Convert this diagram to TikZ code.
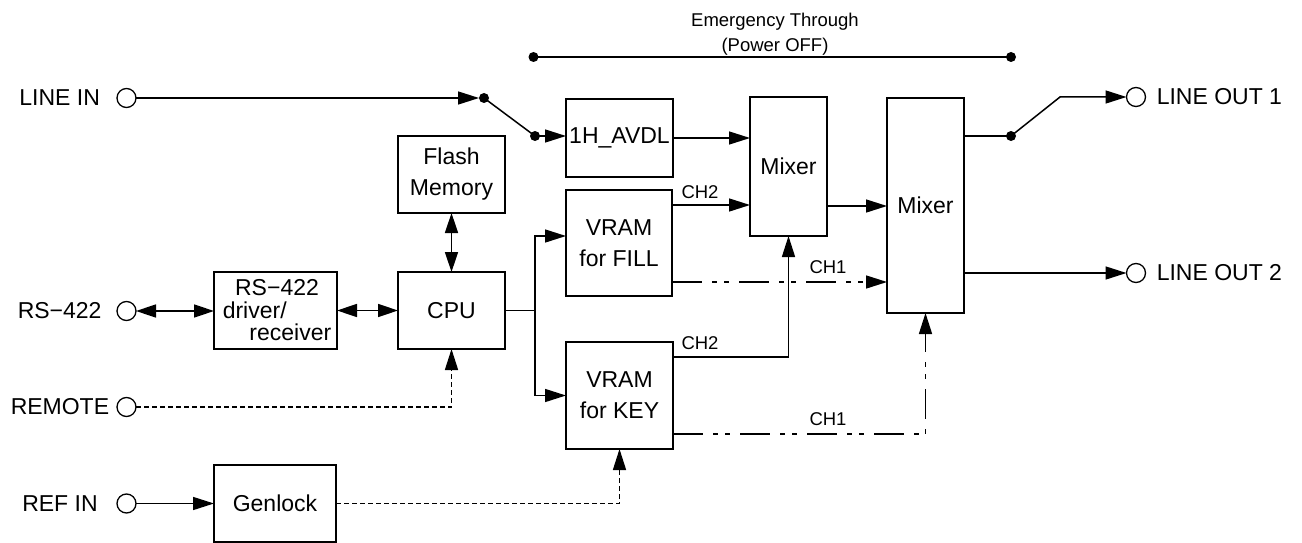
\documentclass[tikz,border=0pt]{standalone}
\usepackage{fontspec}
\setmainfont{Liberation Sans}
\usetikzlibrary{arrows.meta,calc}
\newcommand\dgbig{\fontsize{23}{31}\selectfont}
\newcommand\dgsmall{\fontsize{18.5}{25}\selectfont}
\begin{document}
\begin{tikzpicture}[x=1pt,y=-1pt,line width=1.5pt,
  box/.style={draw,inner sep=0pt,outer sep=0pt,align=center,font=\dgbig},
  term/.style={draw,circle,inner sep=0pt,outer sep=0pt,minimum size=19pt,line width=1.3pt},
  jdot/.style={fill,circle,inner sep=0pt,outer sep=0pt,minimum size=10pt},
  lbl/.style={inner sep=0pt,font=\dgbig},
  slbl/.style={inner sep=0pt,font=\dgsmall,align=center},
  arr/.style={-{Triangle[length=21pt,width=13pt]}},
  dbl/.style={{Triangle[length=20pt,width=13pt]}-{Triangle[length=20pt,width=13pt]}},
  dotl/.style={dash pattern=on 5pt off 3pt},
  dd/.style={dash pattern=on 30pt off 10pt on 5pt off 7pt on 5pt off 10pt}]
\useasboundingbox (0,0) rectangle (1302,543);

% boxes
\node[box,minimum width=107pt,minimum height=78pt] (avdl) at (619.5,138) {1H\_AVDL};
\node[box,minimum width=106pt,minimum height=106pt] (fill) at (619,243) {VRAM\\for FILL};
\node[box,minimum width=107pt,minimum height=107pt] (key) at (619.5,395.5) {VRAM\\for KEY};
\node[box,minimum width=77pt,minimum height=139pt] (mix1) at (788.5,166.5) {Mixer};
\node[box,minimum width=77pt,minimum height=215pt] (mix2) at (925.5,205.5) {Mixer};
\node[box,minimum width=107pt,minimum height=77pt] (flash) at (451.5,174.5) {Flash\\Memory};
\node[box,minimum width=107pt,minimum height=77pt] (cpu) at (451.5,310.5) {CPU};
\node[box,minimum width=123pt,minimum height=77pt] (drv) at (275.5,310.5) {};
\node[box,minimum width=122pt,minimum height=77pt] (gen) at (275,503.5) {Genlock};
\node[lbl,anchor=base] (drv1) at (277,295) {RS−422};
\node[lbl,anchor=base west] (drv2) at (222,318) {driver/};
\node[lbl,anchor=base east] (drv3) at (332,340) {receiver};

% terminals
\node[term] (tin) at (126.5,98) {};
\node[term] (trs) at (126.5,311) {};
\node[term] (trem) at (126.5,407) {};
\node[term] (tref) at (126.5,503.5) {};
\node[term] (tout1) at (1136,97) {};
\node[term] (tout2) at (1136,273) {};
\node[lbl,anchor=west] (lin) at (18.7,98) {LINE IN};
\node[lbl,anchor=west] (lrs) at (17,311) {RS−422};
\node[lbl,anchor=west] (lrem) at (10,407) {REMOTE};
\node[lbl,anchor=west] (lref) at (21.5,503.5) {REF IN};
\node[lbl,anchor=west] (lout1) at (1156,97) {LINE OUT 1};
\node[lbl,anchor=west] (lout2) at (1156,273) {LINE OUT 2};

% switch dots
\node[jdot] (d1) at (484,98) {};
\node[jdot] (d2) at (535,136) {};
\node[jdot] (d3) at (1011,136) {};
\node[jdot] (em1) at (533.5,57) {};
\node[jdot] (em2) at (1011,57) {};
\coordinate (kn) at (1060,97);

% emergency through
\draw (em1.center) -- (em2.center);
\node[slbl] (emt) at (775,34.5) {Emergency Through\\(Power OFF)};

% input path
\draw[arr] (tin.east) -- (d1.west);
\draw (d1.center) -- (d2.center);
\draw[arr] (d2.center) -- (d2 -| avdl.west);
\draw[arr] (avdl.east) -- (avdl.east -| mix1.west);

% control
\draw[dbl] (flash.south) -- (cpu.north);
\draw[dbl] (trs.east) -- (trs.east -| drv.west);
\draw[dbl] (drv.east) -- (cpu.west);
\draw[arr,dotl] (trem.east) -| (cpu.south);
\draw[arr] (tref.east) -- (tref.east -| gen.west);
\draw[arr,dotl] (gen.east) -| (key.south);
\draw[arr] (cpu.east) -- ++(30,0) |- ([yshift=7pt]fill.west);
\draw[arr] (cpu.east) -- ++(30,0) |- (key.west);

% channels
\coordinate (f2) at ([yshift=-15pt]fill.north east);
\coordinate (f1) at ([yshift=14pt]fill.south east);
\coordinate (k2) at ([yshift=-15pt]key.north east);
\coordinate (k1) at ([yshift=15pt]key.south east);
\draw[arr] (f2) -- (f2 -| mix1.west);
\draw[arr,dd] (f1) -- (f1 -| mix2.west);
\draw[arr] (k2) -| (mix1.south);
\draw[arr,dd] (k1) -| (mix2.south);
\node[slbl] (c2a) at (700,192) {CH2};
\node[slbl] (c1a) at (828,267) {CH1};
\node[slbl] (c2b) at (700,343) {CH2};
\node[slbl] (c1b) at (828,419) {CH1};

% mixers and outputs
\coordinate (m1o) at ([yshift=-39.5pt]mix1.east);
\draw[arr] (m1o) -- (m1o -| mix2.west);
\coordinate (m2a) at ([yshift=69.5pt]mix2.east);
\coordinate (m2b) at ([yshift=-67.5pt]mix2.east);
\draw (m2a) -- (d3.center);
\draw[arr] (d3.center) -- (kn) -- (tout1.west);
\draw[arr] (m2b) -- (tout2.west);
\end{tikzpicture}
\end{document}
